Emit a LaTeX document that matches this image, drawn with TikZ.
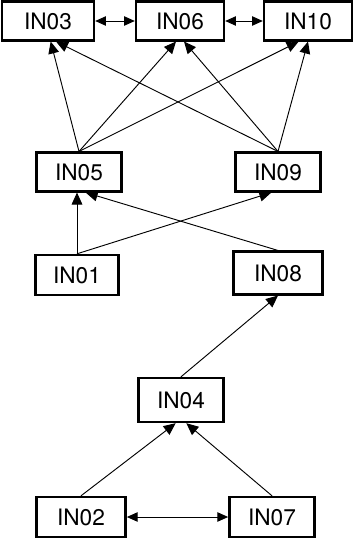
\documentclass[tikz,border=0pt]{standalone}
\usepackage{fontspec}
\setmainfont{TeX Gyre Heros}
\usetikzlibrary{arrows.meta}
\tikzset{
  inbox/.style={draw, line width=1.8pt, minimum width=66pt, minimum height=29pt,
    inner sep=0pt, font=\fontsize{17}{19}\selectfont},
  dep/.style={-{Triangle[length=9pt,width=8pt]}, line width=0.7pt},
  both/.style={{Triangle[length=8pt,width=7pt]}-{Triangle[length=8pt,width=7pt]}, line width=0.7pt}
}

\begin{document}
\begin{tikzpicture}[x=0.75pt,y=-0.75pt]
  \useasboundingbox (0,0) rectangle (356,539);
  % top row
  \node[inbox,minimum width=69pt] (in03) at (48,21) {IN03};
  \node[inbox] (in06) at (180,21) {IN06};
  \node[inbox] (in10) at (308,21) {IN10};
  % middle rows
  \node[inbox,minimum width=64pt] (in05) at (79,172) {IN05};
  \node[inbox,minimum width=64pt] (in09) at (278,172) {IN09};
  \node[inbox,minimum width=62pt,minimum height=30pt] (in01) at (77,275) {IN01};
  \node[inbox,minimum width=67pt,minimum height=32pt] (in08) at (278,273) {IN08};
  \node[inbox,minimum width=64pt,minimum height=33pt] (in04) at (181,400) {IN04};
  % bottom row
  \node[inbox,minimum width=67pt,minimum height=30pt] (in02) at (81,517) {IN02};
  \node[inbox,minimum width=64pt,minimum height=30pt] (in07) at (272,517) {IN07};

  \draw[both] (in03) -- (in06);
  \draw[both] (in06) -- (in10);
  \draw[both] (in02) -- (in07);

  \draw[dep] (in05.north) -- ([xshift=2pt]in03.south);
  \draw[dep] (in05.north) -- ([xshift=-3pt]in06.south);
  \draw[dep] (in05.north) -- ([xshift=-7pt]in10.south);
  \draw[dep] (in09.north) -- ([xshift=6pt]in03.south);
  \draw[dep] (in09.north) -- ([xshift=3pt]in06.south);
  \draw[dep] (in09.north) -- (in10.south);

  \draw[dep] (in01.north) -- (in01.north |- in05.south);
  \draw[dep] (in01.north) -- ([xshift=-5pt]in09.south);
  \draw[dep] (in08.north) -- ([xshift=5pt]in05.south);
  \draw[dep] (in04.north) -- (in08.south);
  \draw[dep] (in02.north) -- ([xshift=-4pt]in04.south);
  \draw[dep] (in07.north) -- ([xshift=4pt]in04.south);
\end{tikzpicture}
\end{document}
